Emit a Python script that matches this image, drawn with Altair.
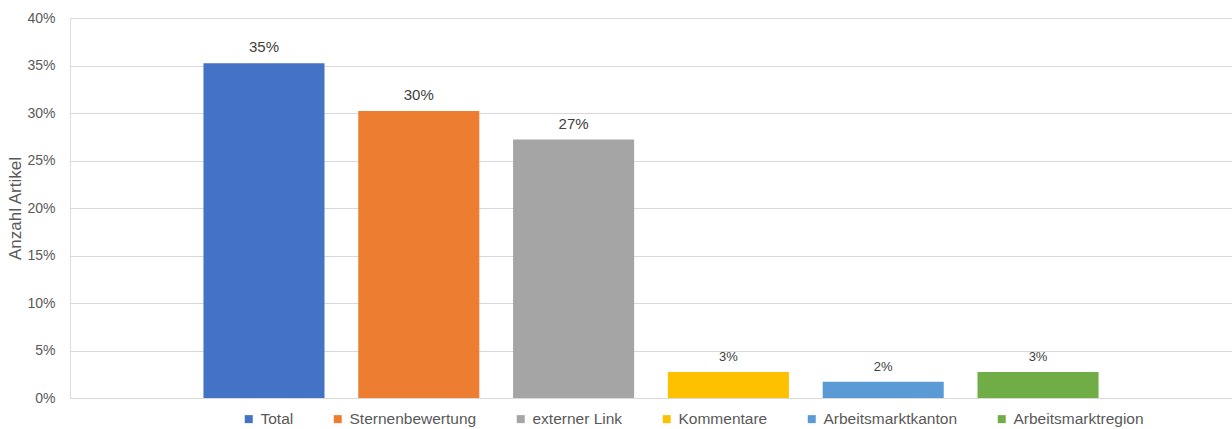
import altair as alt
import pandas as pd

categories = ["Total", "Sternenbewertung", "externer Link", "Kommentare",
              "Arbeitsmarktkanton", "Arbeitsmarktregion"]
values = [0.3525, 0.302, 0.272, 0.0275, 0.017, 0.0275]
colors = ["#4472C4", "#ED7D31", "#A5A5A5", "#FFC000", "#5B9BD5", "#70AD47"]
y_ticks = [0, 0.05, 0.10, 0.15, 0.20, 0.25, 0.30, 0.35, 0.40]

df = pd.DataFrame({"cat": categories, "value": values})

x = alt.X("cat:N", sort=categories, axis=None,
          scale=alt.Scale(paddingInner=0.218, paddingOuter=0.862))
y = alt.Y("value:Q",
          scale=alt.Scale(domain=[0, 0.4], nice=False),
          axis=alt.Axis(values=y_ticks, format=".0%", title="Anzahl Artikel",
                        domain=False, ticks=False, labelPadding=15,
                        labelFontSize=14, labelColor="#595959", labelFont="Liberation Sans",
                        titleFontSize=17, titleColor="#595959", titleFont="Liberation Sans",
                        titleFontWeight="normal", titleX=-55, titleY=190,
                        titleAngle=-90, titleAlign="center", titleBaseline="middle",
                        grid=True, gridColor="#D9D9D9", gridWidth=1))

bars = alt.Chart(df).mark_bar().encode(
    x=x, y=y,
    color=alt.Color("cat:N", sort=categories,
                    scale=alt.Scale(domain=categories, range=colors),
                    legend=alt.Legend(title=None, orient="none", direction="horizontal",
                                      legendX=171, legendY=393, padding=0,
                                      symbolType="square", symbolSize=64,
                                      symbolStrokeWidth=0, labelOffset=4,
                                      labelFontSize=15.5, labelColor="#595959",
                                      labelFont="Liberation Sans",
                                      columnPadding=36, labelLimit=300))
)

labels = alt.Chart(df).mark_text(baseline="bottom", dy=-8, color="#404040",
                                 font="Liberation Sans").encode(
    x=alt.X("cat:N", sort=categories),
    y=alt.Y("value:Q"),
    text=alt.Text("value:Q", format=".0%"),
    size=alt.condition("datum.value > 0.1", alt.value(15), alt.value(13)),
)

chart = alt.layer(bars, labels).properties(
    width=1162, height=380,
    padding={"left": 70, "top": 18, "right": 0, "bottom": 31},
    autosize=alt.AutoSizeParams(type="none"),
).configure_view(stroke=None).configure(background="white")

chart.save("out.html", embed_options={"renderer": "svg", "actions": False})
